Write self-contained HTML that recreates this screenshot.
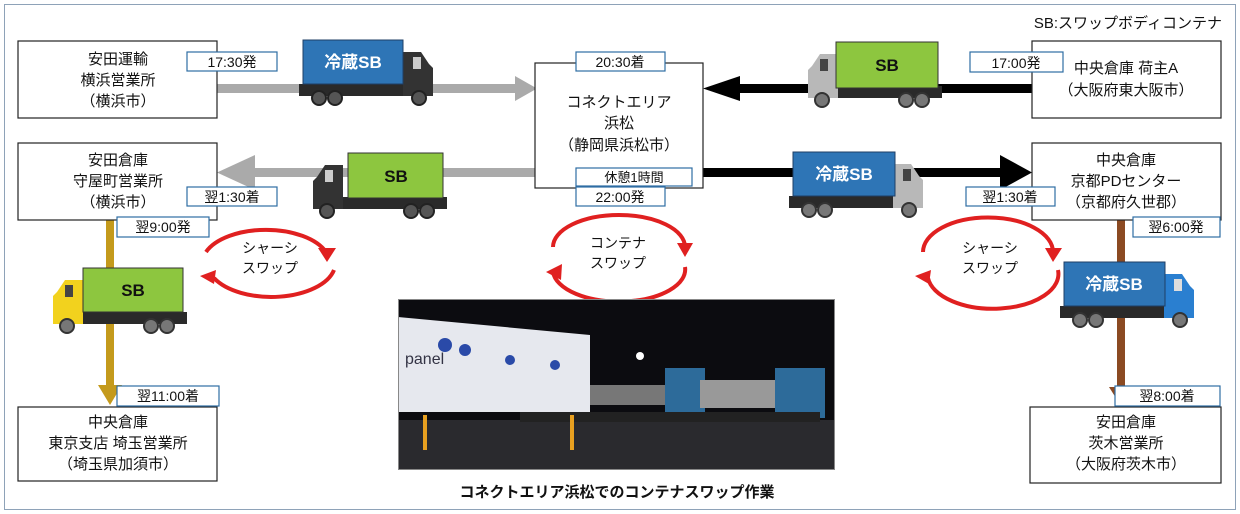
<!DOCTYPE html>
<html><head><meta charset="utf-8"><style>
html,body{margin:0;padding:0;background:#fff;}
svg{display:block;font-family:"Liberation Sans","Noto Sans CJK JP",sans-serif;}
</style></head><body>
<svg width="1240" height="514" viewBox="0 0 1240 514" xmlns="http://www.w3.org/2000/svg">
<defs>
<g id="chassisDark">
  <rect x="-4" y="44" width="134" height="12" fill="#2a2a2a"/>
  <path d="M100 12 L118 12 L126 24 L130 28 L130 56 L100 56 Z" fill="#333"/>
  <rect x="110" y="17" width="8" height="12" fill="#ccc"/>
  <circle cx="16" cy="58" r="7" fill="#555" stroke="#222" stroke-width="2"/>
  <circle cx="32" cy="58" r="7" fill="#555" stroke="#222" stroke-width="2"/>
  <circle cx="116" cy="58" r="7" fill="#555" stroke="#222" stroke-width="2"/>
</g>
<g id="chassisSilver">
  <rect x="-4" y="44" width="134" height="12" fill="#2a2a2a"/>
  <path d="M100 12 L118 12 L126 24 L130 28 L130 56 L100 56 Z" fill="#b8b8b8"/>
  <rect x="110" y="17" width="8" height="12" fill="#444"/>
  <circle cx="16" cy="58" r="7" fill="#777" stroke="#333" stroke-width="2"/>
  <circle cx="32" cy="58" r="7" fill="#777" stroke="#333" stroke-width="2"/>
  <circle cx="116" cy="58" r="7" fill="#777" stroke="#333" stroke-width="2"/>
</g>
<g id="chassisYellow">
  <rect x="-4" y="44" width="134" height="12" fill="#2a2a2a"/>
  <path d="M100 12 L118 12 L126 24 L130 28 L130 56 L100 56 Z" fill="#f2d21e"/>
  <rect x="110" y="17" width="8" height="12" fill="#444"/>
  <circle cx="16" cy="58" r="7" fill="#777" stroke="#333" stroke-width="2"/>
  <circle cx="32" cy="58" r="7" fill="#777" stroke="#333" stroke-width="2"/>
  <circle cx="116" cy="58" r="7" fill="#777" stroke="#333" stroke-width="2"/>
</g>
<g id="chassisBlue">
  <rect x="-4" y="44" width="134" height="12" fill="#2a2a2a"/>
  <path d="M100 12 L118 12 L126 24 L130 28 L130 56 L100 56 Z" fill="#2a7fd0"/>
  <rect x="110" y="17" width="8" height="12" fill="#ddd"/>
  <circle cx="16" cy="58" r="7" fill="#777" stroke="#333" stroke-width="2"/>
  <circle cx="32" cy="58" r="7" fill="#777" stroke="#333" stroke-width="2"/>
  <circle cx="116" cy="58" r="7" fill="#777" stroke="#333" stroke-width="2"/>
</g>
</defs>

<rect x="4.5" y="4.5" width="1231" height="505" fill="#fff" stroke="#8ea2b8" stroke-width="1"/>
<text x="1222" y="28" font-size="15" text-anchor="end" fill="#111">SB:スワップボディコンテナ</text>

<rect x="217" y="84" width="300" height="9" fill="#aaa"/>
<path d="M515 76 L537 88.5 L515 101 Z" fill="#aaa"/>
<rect x="738" y="84" width="294" height="9" fill="#000"/>
<path d="M740 76 L703 88.5 L740 101 Z" fill="#000"/>
<rect x="255" y="168" width="280" height="9" fill="#aaa"/>
<path d="M255 155 L217 172.5 L255 190 Z" fill="#aaa"/>
<rect x="703" y="168" width="298" height="9" fill="#000"/>
<path d="M1000 155 L1032 172.5 L1000 190 Z" fill="#000"/>
<rect x="106" y="220" width="8" height="168" fill="#c49a1c"/>
<path d="M98 385 L110 405 L122 385 Z" fill="#c49a1c"/>
<rect x="1117" y="220" width="8" height="170" fill="#8b4a22"/>
<path d="M1109 387 L1121 406 L1133 387 Z" fill="#8b4a22"/>

<g fill="#fff" stroke="#222" stroke-width="1.2">
<rect x="18" y="41" width="199" height="77"/>
<rect x="18" y="143" width="199" height="77"/>
<rect x="18" y="407" width="199" height="74"/>
<rect x="535" y="63" width="168" height="125"/>
<rect x="1032" y="41" width="189" height="77"/>
<rect x="1032" y="143" width="189" height="77"/>
<rect x="1030" y="407" width="191" height="76"/>
</g>
<g font-size="15" text-anchor="middle" fill="#111">
<text x="118" y="64">安田運輸</text><text x="118" y="85">横浜営業所</text><text x="118" y="106">（横浜市）</text>
<text x="118" y="165">安田倉庫</text><text x="118" y="186">守屋町営業所</text><text x="118" y="207">（横浜市）</text>
<text x="118" y="427">中央倉庫</text><text x="118" y="448">東京支店 埼玉営業所</text><text x="118" y="469">（埼玉県加須市）</text>
<text x="619" y="107">コネクトエリア</text><text x="619" y="128">浜松</text><text x="619" y="150">（静岡県浜松市）</text>
<text x="1126" y="73">中央倉庫 荷主A</text><text x="1126" y="95">（大阪府東大阪市）</text>
<text x="1126" y="165">中央倉庫</text><text x="1126" y="186">京都PDセンター</text><text x="1126" y="207">（京都府久世郡）</text>
<text x="1126" y="427">安田倉庫</text><text x="1126" y="448">茨木営業所</text><text x="1126" y="469">（大阪府茨木市）</text>
</g>

<g fill="#fff" stroke="#2e6da4" stroke-width="1.2">
<rect x="187" y="52" width="90" height="19"/>
<rect x="576" y="52" width="89" height="19"/>
<rect x="970" y="52" width="93" height="20"/>
<rect x="187" y="187" width="90" height="19"/>
<rect x="576" y="168" width="116" height="18"/>
<rect x="576" y="187" width="89" height="19"/>
<rect x="966" y="187" width="89" height="19"/>
<rect x="117" y="217" width="92" height="20"/>
<rect x="1133" y="217" width="87" height="20"/>
<rect x="117" y="386" width="102" height="20"/>
<rect x="1115" y="386" width="105" height="20"/>
</g>
<g font-size="14" text-anchor="middle" fill="#111">
<text x="232" y="67">17:30発</text>
<text x="620" y="67">20:30着</text>
<text x="1016" y="68">17:00発</text>
<text x="232" y="202">翌1:30着</text>
<text x="634" y="182" font-size="13">休憩1時間</text>
<text x="620" y="202">22:00発</text>
<text x="1010" y="202">翌1:30着</text>
<text x="163" y="232">翌9:00発</text>
<text x="1176" y="232">翌6:00発</text>
<text x="168" y="401">翌11:00着</text>
<text x="1167" y="401">翌8:00着</text>
</g>

<g transform="translate(303,40)"><use href="#chassisDark"/><rect x="0" y="0" width="100" height="44" fill="#2e75b6" stroke="#1f3f66"/></g>
<text x="353" y="68" font-size="17" font-weight="bold" fill="#fff" text-anchor="middle">冷蔵SB</text>
<g transform="translate(938,42) scale(-1,1)"><use href="#chassisSilver"/><rect x="0" y="0" width="102" height="46" fill="#8dc63f" stroke="#333"/></g>
<text x="887" y="71" font-size="17" font-weight="bold" fill="#111" text-anchor="middle">SB</text>
<g transform="translate(443,153) scale(-1,1)"><use href="#chassisDark"/><rect x="0" y="0" width="95" height="45" fill="#8dc63f" stroke="#333"/></g>
<text x="396" y="182" font-size="17" font-weight="bold" fill="#111" text-anchor="middle">SB</text>
<g transform="translate(793,152)"><use href="#chassisSilver"/><rect x="0" y="0" width="102" height="44" fill="#2e75b6" stroke="#1f3f66"/></g>
<text x="844" y="180" font-size="17" font-weight="bold" fill="#fff" text-anchor="middle">冷蔵SB</text>
<g transform="translate(183,268) scale(-1,1)"><use href="#chassisYellow"/><rect x="0" y="0" width="100" height="44" fill="#8dc63f" stroke="#333"/></g>
<text x="133" y="296" font-size="17" font-weight="bold" fill="#111" text-anchor="middle">SB</text>
<g transform="translate(1064,262)"><use href="#chassisBlue"/><rect x="0" y="0" width="101" height="44" fill="#2e75b6" stroke="#1f3f66"/></g>
<text x="1114" y="290" font-size="17" font-weight="bold" fill="#fff" text-anchor="middle">冷蔵SB</text>

<g transform="translate(0,8)">
<g fill="none" stroke="#e02020" stroke-width="4">
<path d="M206 244 A64 34 0 0 1 326 244"/><path d="M334 262 A64 34 0 0 1 214 270"/>
<path d="M923 244 A64 34 0 0 1 1053 244"/><path d="M1058 262 A64 34 0 0 1 928 270"/>
</g>
<g fill="#e02020">
<path d="M318 240 L336 240 L327 254 Z"/><path d="M200 268 L216 262 L214 276 Z"/>
<path d="M1045 240 L1062 240 L1053 254 Z"/><path d="M915 268 L931 262 L929 276 Z"/>
</g>
</g>
<g transform="translate(0,10)">
<g fill="none" stroke="#e02020" stroke-width="4">
<path d="M553 237 A66 32 0 0 1 685 237"/><path d="M685 257 A66 32 0 0 1 553 262"/>
</g>
<g fill="#e02020">
<path d="M677 233 L693 233 L685 247 Z"/><path d="M546 262 L562 254 L561 270 Z"/>
</g>
</g>
<g font-size="14" text-anchor="middle" fill="#111">
<text x="270" y="253">シャーシ</text><text x="270" y="273">スワップ</text>
<text x="618" y="248">コンテナ</text><text x="618" y="268">スワップ</text>
<text x="990" y="253">シャーシ</text><text x="990" y="273">スワップ</text>
</g>

<rect x="398" y="299" width="437" height="171" fill="#0c0c10"/>
<rect x="398" y="420" width="437" height="50" fill="#2a2a2e"/>
<path d="M398 317 L590 335 L590 412 L398 412 Z" fill="#e6e8ee"/>
<text x="405" y="364" font-size="16" fill="#334">panel</text>
<circle cx="445" cy="345" r="7" fill="#2a4aa8"/><circle cx="465" cy="350" r="6" fill="#2a4aa8"/><circle cx="510" cy="360" r="5" fill="#2a4aa8"/><circle cx="555" cy="365" r="5" fill="#2a4aa8"/>
<rect x="590" y="385" width="90" height="20" fill="#777"/>
<rect x="665" y="368" width="40" height="50" fill="#2d6b9a"/>
<rect x="775" y="368" width="50" height="50" fill="#2d6b9a"/>
<rect x="700" y="380" width="75" height="28" fill="#999"/>
<rect x="520" y="412" width="300" height="10" fill="#222"/>
<circle cx="640" cy="356" r="4" fill="#fff"/>
<rect x="423" y="415" width="4" height="35" fill="#e8a020"/><rect x="570" y="415" width="4" height="35" fill="#e8a020"/>
<rect x="398.5" y="299.5" width="436" height="170" fill="none" stroke="#888"/>
<text x="617" y="497" font-size="15" font-weight="bold" text-anchor="middle" fill="#111">コネクトエリア浜松でのコンテナスワップ作業</text>
</svg>
</body></html>
